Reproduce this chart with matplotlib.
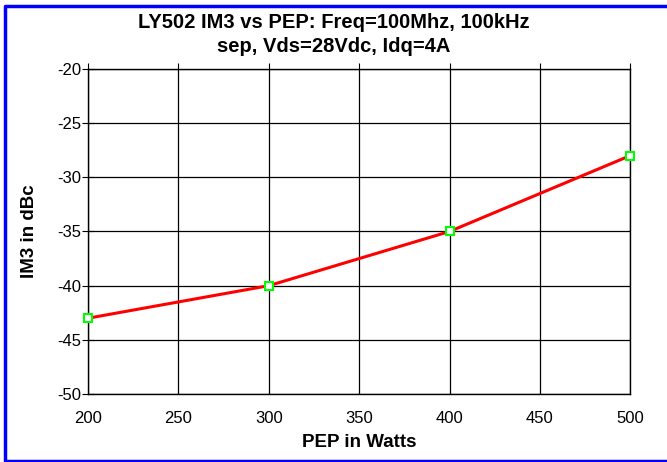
import matplotlib.pyplot as plt
from matplotlib.lines import Line2D

# data
pep_watts = [200, 300, 400, 500]
im3_dbc = [-43, -40, -35, -28]

x_ticks = [200, 250, 300, 350, 400, 450, 500]
y_ticks = [-50, -45, -40, -35, -30, -25, -20]

plt.rcParams["font.family"] = ["Liberation Sans", "DejaVu Sans"]
plt.rcParams["axes.unicode_minus"] = False

W, H = 667, 462
fig = plt.figure(figsize=(W / 100, H / 100), dpi=100)
ax = fig.add_axes([0.132, 0.147, 0.813, 0.704])

# blue frame (right side runs off the picture in the original)
fx = [W + 5, 4.5, 4.5, W + 5]
fy = [H - 5.5, H - 5.5, 1.5, 1.5]
fig.lines.append(Line2D([v / W for v in fx], [v / H for v in fy],
                        transform=fig.transFigure, color="#0000ff", linewidth=2.5))

ax.plot(pep_watts, im3_dbc, color="#ff0000", linewidth=2.2, marker="s",
        markersize=6, markerfacecolor="white", markeredgecolor="#00ff00",
        markeredgewidth=1.5, zorder=3, clip_on=False)

ax.set_xlim(200, 500)
ax.set_ylim(-50, -20)
ax.set_xticks(x_ticks)
ax.set_yticks(y_ticks)
ax.grid(True, color="black", linewidth=0.9)
ax.tick_params(axis="x", bottom=False, top=True, direction="out", length=4,
               labelsize=12, pad=8)
ax.tick_params(axis="y", direction="inout", length=8, labelsize=12, pad=1)

for s in ax.spines.values():
    s.set_linewidth(1.0)
    s.set_color("black")

fig.text(0.5, 1 - 22 / H, "LY502 IM3 vs PEP: Freq=100Mhz, 100kHz",
         ha="center", va="center", fontsize=14.5, fontweight="bold")
fig.text(0.5, 1 - 47 / H, "sep, Vds=28Vdc, Idq=4A",
         ha="center", va="center", fontsize=14.5, fontweight="bold")
ax.set_xlabel("PEP in Watts", fontsize=13.5, fontweight="bold", labelpad=6)
ax.set_ylabel("IM3 in dBc", fontsize=13.5, fontweight="bold", labelpad=14)

fig.savefig("out.png", dpi=100)
